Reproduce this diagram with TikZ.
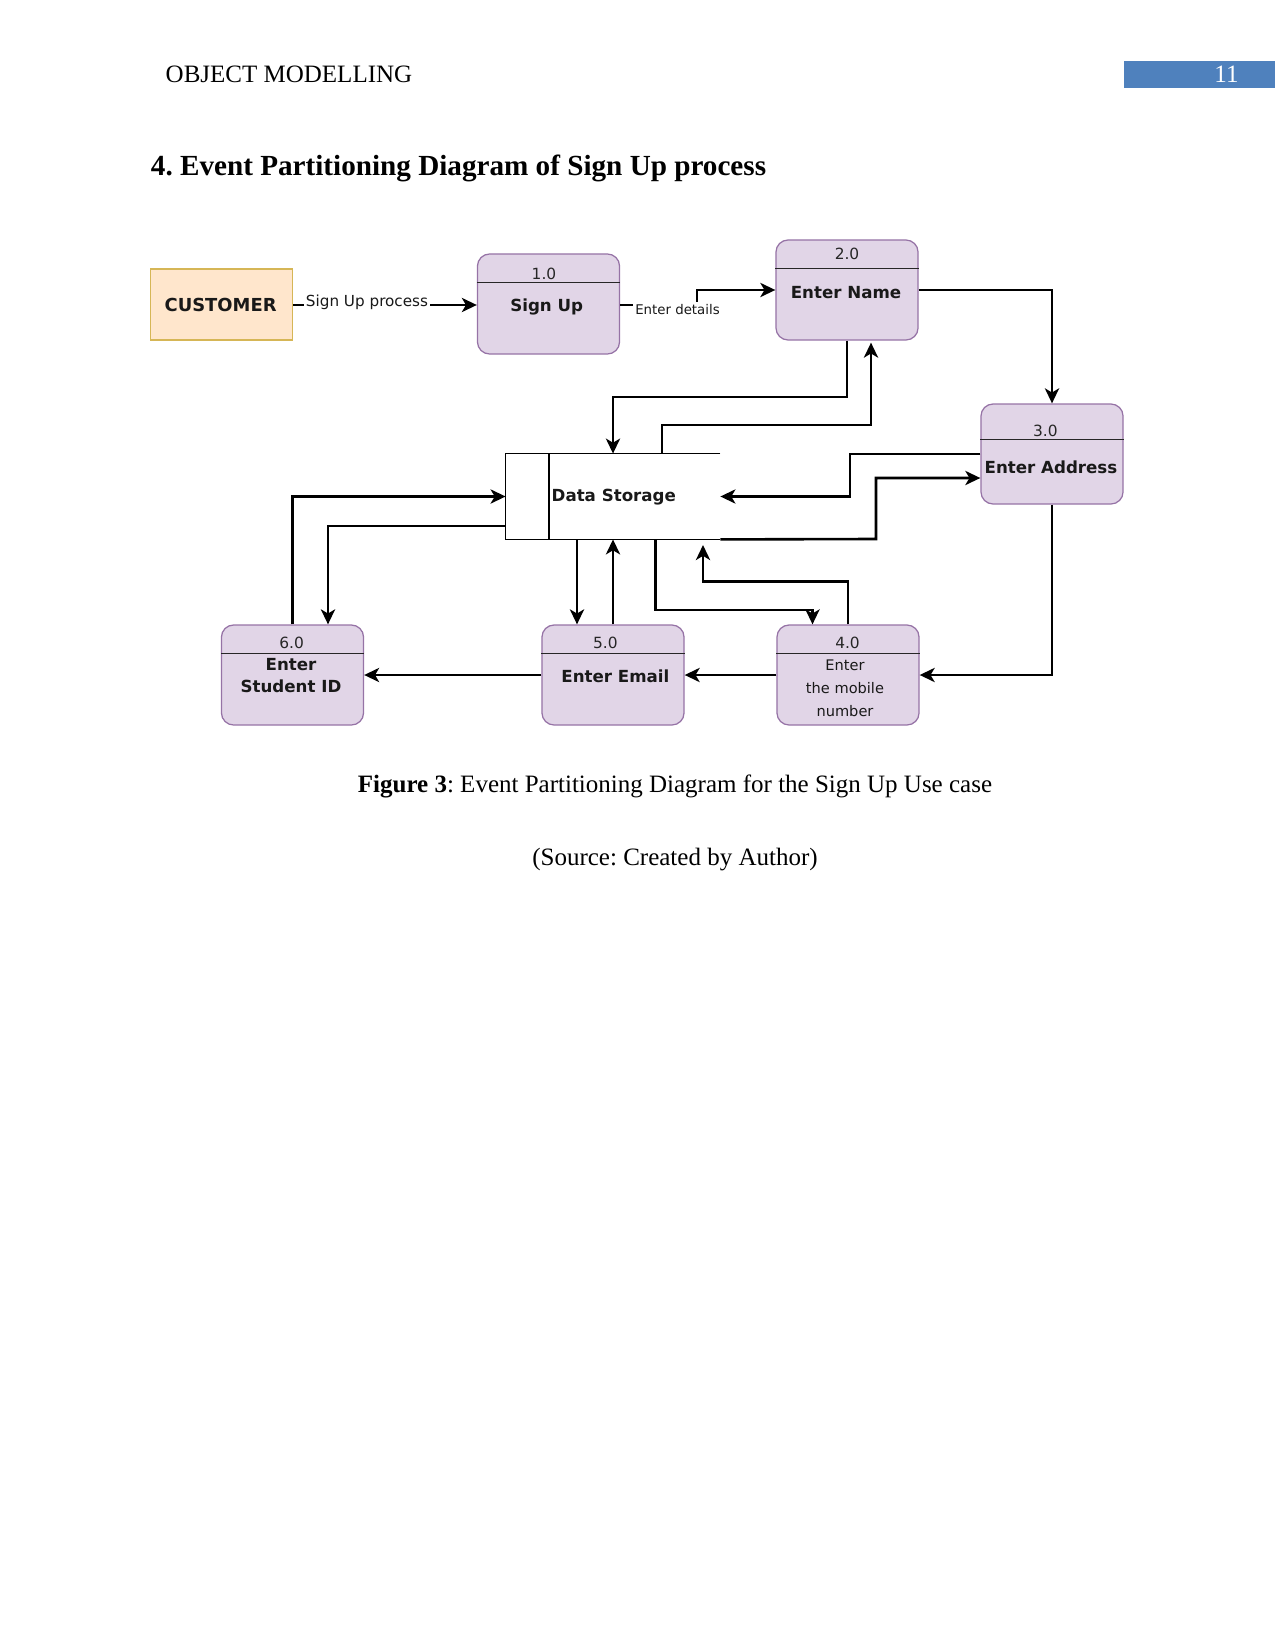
\documentclass[tikz,border=0pt]{standalone}
\usepackage{fontspec}
\setmainfont{Liberation Serif}
\newfontfamily\djv{DejaVu Sans}
\usetikzlibrary{arrows.meta,calc}
\definecolor{procfill}{HTML}{E1D5E7}
\definecolor{procdraw}{HTML}{9673A6}
\definecolor{custfill}{HTML}{FFE6CC}
\definecolor{custdraw}{HTML}{D6B656}
\definecolor{hdrblue}{HTML}{4F81BD}
\frenchspacing
\begin{document}
\begin{tikzpicture}[x=0.48pt,y=-0.48pt,
  proc/.style={draw=procdraw, fill=procfill, rounded corners=5.8pt, line width=0.6pt, minimum width=68.2pt, minimum height=48pt, inner sep=0pt},
  cust/.style={draw=custdraw, fill=custfill, line width=0.6pt, minimum width=68.2pt, minimum height=34pt, inner sep=0pt},
  storebox/.style={minimum width=102.7pt, minimum height=40.8pt, inner sep=0pt},
  divider/.style={line width=0.6pt, draw=black!85},
  storeline/.style={line width=0.5pt, draw=black},
  num/.style={font=\djv\fontsize{7.4}{8}\selectfont, inner sep=0pt, text=black!85},
  lbl/.style={font=\djv\bfseries\fontsize{8}{10.6}\selectfont, inner sep=0pt, align=center, text=black!90},
  smalltxt/.style={font=\djv\fontsize{7}{11}\selectfont, inner sep=0pt, align=center, text=black!90},
  flow/.style={line width=1.25pt, -{Stealth[length=7.2pt,width=6.8pt,inset=2pt]}},
  elabel/.style={fill=white, inner xsep=1pt, inner ysep=1pt, text=black!90},
]
\useasboundingbox (0,0) rectangle (1275,1651);

% page header
\node[anchor=west, inner sep=0pt, font=\fontsize{12}{14}\selectfont] (hdr) at (165.3,74.7) {OBJECT MODELLING};
\node[fill=hdrblue, minimum width=72.5pt, minimum height=13.2pt, inner sep=0pt] (pagebox) at (1199.5,74.7) {};
\node[text=white, inner sep=0pt, font=\fontsize{12}{14}\selectfont] (pagenum) at (1226.5,74.7) {11};
\node[anchor=west, inner sep=0pt, font=\bfseries\fontsize{14}{17}\selectfont] (title) at (150.5,168.5) {4. Event Partitioning Diagram of Sign Up process};

% boxes
\node[cust] (cust) at (221.7,304.5) {};
\node[lbl, font=\djv\bfseries\fontsize{8.6}{10}\selectfont] (custtxt) at (220.6,305) {CUSTOMER};

\node[proc] (n1) at (548.5,304) {};
\node[proc] (n2) at (847,290) {};
\node[proc] (n3) at (1052,454) {};
\node[proc] (n4) at (848,675) {};
\node[proc] (n5) at (613,675) {};
\node[proc] (n6) at (292.5,675) {};
\foreach \n in {n1,n2,n4,n5,n6}{
  \draw[divider] ($(\n.north west)+(0,29)$) -- ($(\n.north east)+(0,29)$);
}
\draw[divider] ($(n3.north west)+(0,36)$) -- ($(n3.north east)+(0,36)$);

\node[num] (n1num) at (544,274) {1.0};
\node[lbl] (n1lbl) at (546.7,307) {Sign Up};
\node[num] (n2num) at (847,254) {2.0};
\node[lbl] (n2lbl) at (846,293) {Enter Name};
\node[num] (n3num) at (1045.4,431) {3.0};
\node[lbl] (n3lbl) at (1051,467) {Enter Address};
\node[num] (n4num) at (847.5,643) {4.0};
\node[smalltxt] (n4lbl) at (845,688.5) {Enter\\the mobile\\number};
\node[num] (n5num) at (605.4,643) {5.0};
\node[lbl] (n5lbl) at (615.4,676) {Enter Email};
\node[num] (n6num) at (291.6,643) {6.0};
\node[lbl] (n6lbl) at (291,675.5) {Enter\\Student ID};

% data store
\node[storebox] (store) at (613,496.5) {};
\draw[storeline] (store.north east) -- (store.north west) -- (store.south west) -- (store.south east);
\draw[storeline] (549,0 |- store.north) -- (549,0 |- store.south);
\node[lbl] (storetxt) at (613.8,497) {Data Storage};

% connectors
\draw[flow] (cust.east |- 0,305) -- (n1.west |- 0,305);
\node[elabel, font=\djv\fontsize{7.3}{8}\selectfont] (l1) at (367,302) {Sign Up process};

\draw[flow] (n1.east |- 0,305) -- (697,305) -- (697,290) -- (n2.west);
\node[elabel, font=\djv\fontsize{6.4}{7}\selectfont] (l2) at (677.5,309.5) {Enter details};

\draw[flow] (n2.east) -- (1052,290) -- (n3.north);
\draw[flow] (n2.south) -- (847,397) -- (613,397) -- (store.north);
\draw[flow] (662,0 |- store.north) -- (662,425) -- (871,425) -- ($(871,0 |- n2.south)+(0,2)$);
\draw[flow] (n3.west) -- (850,454) -- (850,496.5) -- (store.east);
\draw[flow] (store.south east) -- (876,539) -- (876,478) -- (n3.west |- 0,478);
\draw[flow] (n3.south) -- (1052,675) -- (n4.east);
\draw[flow] (n4.west) -- (n5.east);
\draw[flow] (n5.west) -- (n6.east);
\draw[flow] (577,0 |- store.south) -- (577,0 |- n5.north);
\draw[flow] (n5.north) -- (store.south);
\draw[flow] (655.5,0 |- store.south) -- (655.5,610) -- (812.5,610) -- (812.5,0 |- n4.north);
\coordinate (s4in) at (703,545);
\draw[flow] (n4.north) -- (848,581.5) -- (703,581.5) -- (s4in);
\draw[flow] (n6.north) -- (292.5,496.5) -- (store.west);
\draw[flow] (store.west |- 0,526) -- (328,526) -- (328,0 |- n6.north);

% caption
\node[inner sep=0pt, font=\fontsize{12}{14}\selectfont] (caption) at (675,786.5) {\textbf{Figure 3}: Event Partitioning Diagram for the Sign Up Use case};
\node[inner sep=0pt, font=\fontsize{12}{14}\selectfont] (source) at (675,860) {(Source: Created by Author)};
\end{tikzpicture}
\end{document}
